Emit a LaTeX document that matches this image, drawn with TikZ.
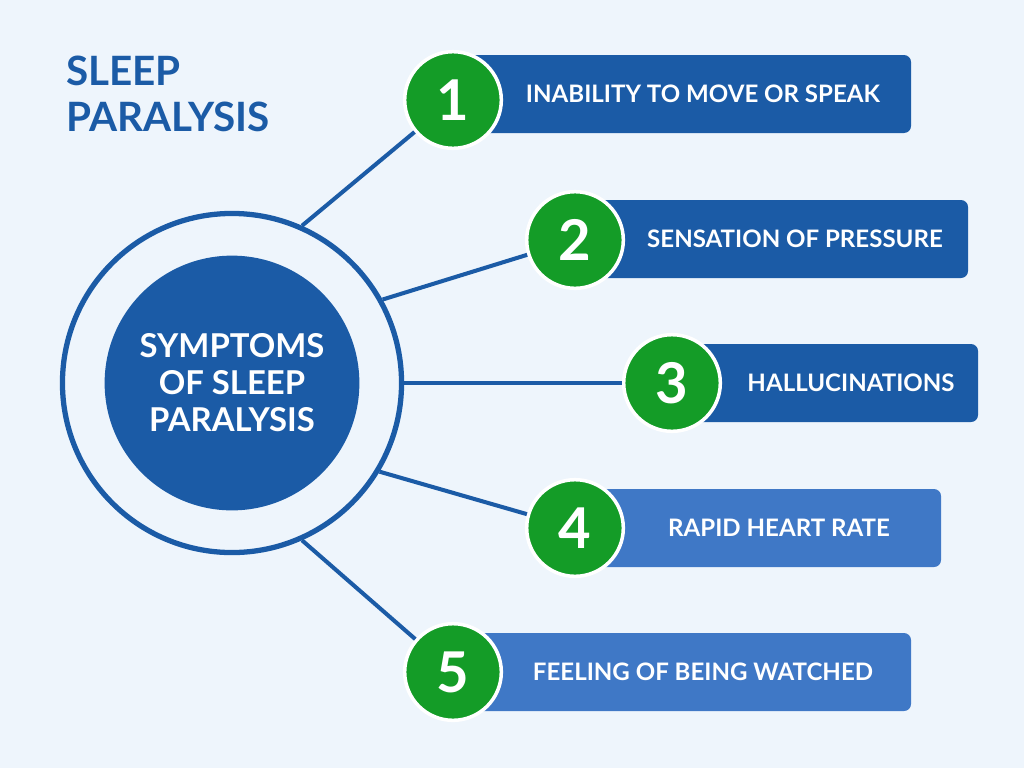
\documentclass[tikz,border=0pt]{standalone}
\usepackage{fontspec}
\setmainfont{Lato}
\usetikzlibrary{positioning}
\definecolor{bg}{HTML}{EEF5FC}
\definecolor{darkblue}{HTML}{1B5BA6}
\definecolor{lightblue}{HTML}{3F78C6}
\definecolor{greenc}{HTML}{149C27}
\tikzset{
  numc/.style={circle,fill=greenc,draw=white,line width=2pt,minimum size=55pt,text=white,font=\fontsize{32}{32}\selectfont\bfseries},
  bar/.style={rounded corners=4pt},
  lbl/.style={text=white,font=\fontsize{13.7}{15}\selectfont\bfseries},
  link/.style={draw=darkblue,line width=2.3pt}
}
\begin{document}
\begin{tikzpicture}[x=0.02cm,y=-0.02cm]
\useasboundingbox[fill=bg] (0,0) rectangle (1024,768);

% title
\node[anchor=north west,align=left,text=darkblue,font=\fontsize{23}{26}\selectfont\bfseries] (title) at (60,50) {SLEEP\\PARALYSIS};

% hub
\node[circle,draw=darkblue,line width=3pt,minimum size=193pt,inner sep=0pt] (hub) at (232,383) {};
\node[circle,fill=darkblue,minimum size=145pt,inner sep=0pt,align=center,text=white,font=\fontsize{18.7}{21}\selectfont\bfseries] (core) at (232,383) {SYMPTOMS\\OF SLEEP\\PARALYSIS};

% bars
\fill[bar,darkblue] (453,55) rectangle (911,133);
\fill[bar,darkblue] (575,200) rectangle (968,278);
\fill[bar,darkblue] (672,344) rectangle (978,422);
\fill[bar,lightblue] (575,489) rectangle (941,567);
\fill[bar,lightblue] (453,633) rectangle (911,711);

\node[lbl] (t1) at (703,94) {INABILITY TO MOVE OR SPEAK};
\node[lbl] (t2) at (795,239) {SENSATION OF PRESSURE};
\node[lbl] (t3) at (851,383) {HALLUCINATIONS};
\node[lbl] (t4) at (779,528) {RAPID HEART RATE};
\node[lbl] (t5) at (703,672) {FEELING OF BEING WATCHED};

% numbers
\node[numc] (n1) at (453,100) {1};
\node[numc] (n2) at (575,240) {2};
\node[numc] (n3) at (672,383) {3};
\node[numc] (n4) at (575,528) {4};
\node[numc] (n5) at (453,672) {5};

\foreach \i/\a in {1/66,2/29,3/0,4/-31,5/-66}
  \draw[link] (hub.\a) -- (n\i);
\end{tikzpicture}
\end{document}
